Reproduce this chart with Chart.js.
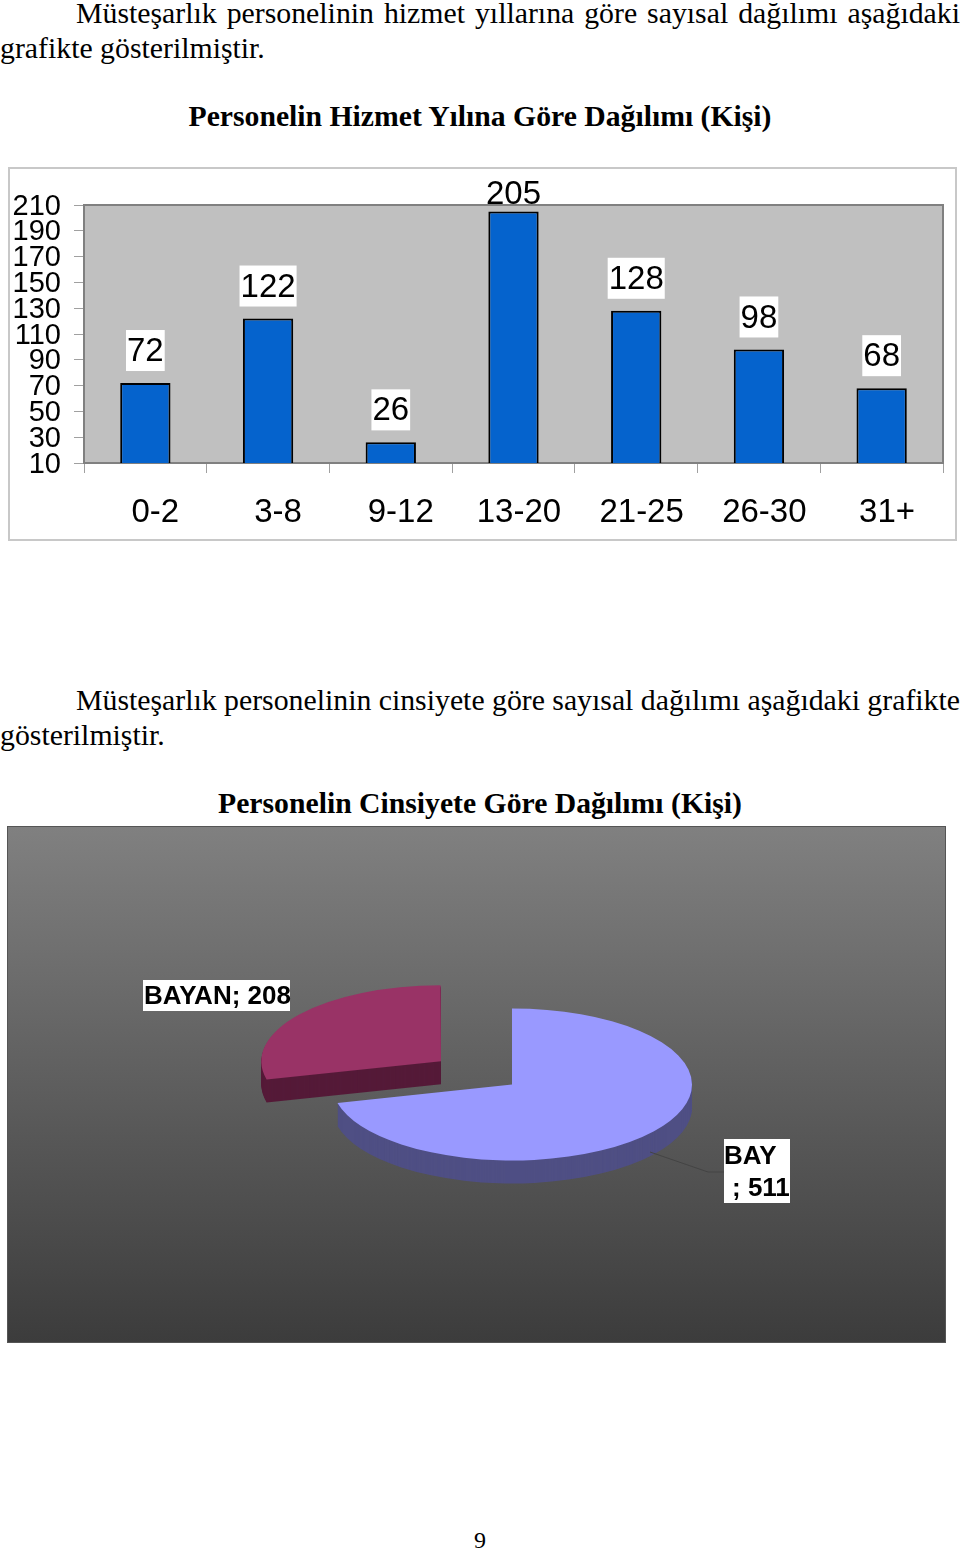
<!DOCTYPE html>
<html lang="tr">
<head>
<meta charset="utf-8">
<title>Personel</title>
<script src="https://cdn.jsdelivr.net/npm/chart.js@4/dist/chart.umd.min.js"></script>
<style>
  html, body { margin: 0; padding: 0; background: #fff; }
  body { position: relative; width: 960px; height: 1550px; overflow: hidden; font-family: "Liberation Serif", serif; color: #000; }
  .line { position: absolute; font-size: 29.8px; line-height: 34px; white-space: nowrap; }
  .just { left: 76px; width: 884px; white-space: normal; word-spacing: -3px; text-align: justify; text-align-last: justify; height: 34px; }
  .baslik { position: absolute; left: 0; width: 960px; text-align: center; font-weight: bold; font-size: 29.7px; line-height: 34px; margin: 0; }
  canvas { position: absolute; display: block; }
  #barChart { left: 8px; top: 167px; outline: 2px solid #c8c8c8; outline-offset: -2px; }
  #pieChart { left: 8px; top: 827px; background: linear-gradient(#808080, #3c3c3c); outline: 1px solid #555; outline-offset: 0; }
</style>
</head>
<body>
<div class="line just" style="top:-4px">Müsteşarlık personelinin hizmet yıllarına göre sayısal dağılımı aşağıdaki</div>
<div class="line" style="left:0;top:31px">grafikte gösterilmiştir.</div>
<h2 class="baslik" style="top:99px;left:0">Personelin Hizmet Yılına Göre Dağılımı (Kişi)</h2>
<canvas id="barChart" width="949" height="374"></canvas>

<div class="line just" style="top:683px">Müsteşarlık personelinin cinsiyete göre sayısal dağılımı aşağıdaki grafikte</div>
<div class="line" style="left:0;top:718px">gösterilmiştir.</div>
<h2 class="baslik" style="top:786px">Personelin Cinsiyete Göre Dağılımı (Kişi)</h2>
<canvas id="pieChart" width="937" height="515"></canvas>

<div class="line" style="left:474px;top:1523px;font-size:24px">9</div>

<script>
// bar chart data
const years = ["0-2", "3-8", "9-12", "13-20", "21-25", "26-30", "31+"];
const people = [72, 122, 26, 205, 128, 98, 68];
const axisMin = 10;
const axisMax = 210;
const axisStep = 20;

// pie chart data
const genders = ["BAY", "BAYAN"];
const genderCounts = [511, 208];
const pieColors = ["#9999ff", "#993366"];
const pieSideColors = ["#4f4f84", "#551a38"];

const sans = "'Liberation Sans', Arial, sans-serif";

let plotBack = {
  id: "plotBack",
  beforeDatasetsDraw(chart) {
    let a = chart.chartArea, c = chart.ctx;
    c.save();
    c.fillStyle = "#c0c0c0";
    c.fillRect(a.left, a.top, a.width, a.height);
    c.strokeStyle = "#808080";
    c.lineWidth = 2;
    c.strokeRect(a.left, a.top, a.width, a.height);
    c.restore();
  }
};

let barLabels = {
  id: "barLabels",
  afterDatasetsDraw(chart) {
    let c = chart.ctx, top = chart.chartArea.top;
    let bars = chart.getDatasetMeta(0).data;
    c.save();
    c.font = "33px " + sans;
    c.textAlign = "center";
    c.textBaseline = "middle";
    bars.forEach((b, i) => {
      let txt = String(people[i]);
      let w = c.measureText(txt).width + 2;
      let y = Math.max(b.y - 33, 26);
      // the box is hidden when the label would run over the plot top
      if (y - 20 > top) {
        c.fillStyle = "#fff";
        c.fillRect(b.x - w / 2, y - 20, w, 41);
      }
      c.fillStyle = "#000";
      c.fillText(txt, b.x, y + 2);
    });
    c.restore();
  }
};

new Chart(document.getElementById("barChart"), {
  type: "bar",
  data: {
    labels: years,
    datasets: [{
      data: people,
      backgroundColor: "#0563cd",
      borderColor: "#000",
      borderWidth: 2,
      borderSkipped: false,
      barPercentage: 0.41,
      categoryPercentage: 1
    }]
  },
  plugins: [plotBack, barLabels],
  options: {
    responsive: false,
    animation: false,
    layout: { padding: { top: 38, right: 14, left: 0, bottom: 0 } },
    plugins: { legend: { display: false }, tooltip: { enabled: false } },
    scales: {
      x: {
        afterFit: s => { s.height = 78; },
        border: { color: "#808080", width: 2 },
        grid: { offset: true, drawOnChartArea: false, color: "#a0a0a0", tickLength: 10 },
        ticks: {
          color: "#000",
          font: { family: sans, size: 33 },
          padding: 20,
          labelOffset: 10,
          maxRotation: 0,
          autoSkip: false,
          // the last four labels sit a little further left in the original
          callback: (v, i) => i >= 3 ? years[i] + " " : years[i]
        }
      },
      y: {
        min: axisMin,
        max: axisMax,
        afterFit: s => { s.width = 76; },
        border: { color: "#808080", width: 2 },
        grid: { drawOnChartArea: false, color: "#a0a0a0", tickLength: 10 },
        ticks: { stepSize: axisStep, color: "#000", font: { family: sans, size: 29 }, padding: 13, labelOffset: 1.5, autoSkip: false }
      }
    }
  }
});

// the pie is squashed and given a side wall to look like the 3d original
const squash = 0.422;
const depth = 23;

function squashCtx(chart, dy) {
  let c = chart.ctx, cy = (chart.chartArea.top + chart.chartArea.bottom) / 2;
  c.translate(0, cy + dy);
  c.scale(1, squash);
  c.translate(0, -cy);
}

let pie3d = {
  id: "pie3d",
  afterDatasetsUpdate(chart) {
    // arc drawing adds a bit of radius to an offset slice, take it back
    chart.getDatasetMeta(0).data[1].outerRadius -= 3;
  },
  beforeDatasetsDraw(chart) {
    let c = chart.ctx;
    chart.getDatasetMeta(0).data.forEach((arc, i) => {
      let keep = arc.options;
      arc.options = { offset: keep.offset, spacing: 0, circular: true, borderWidth: 0, borderColor: pieSideColors[i], borderAlign: "center", backgroundColor: pieSideColors[i] };
      for (let d = depth; d > 0; d--) {
        c.save();
        squashCtx(chart, d);
        arc.draw(c);
        c.restore();
      }
      arc.options = keep;
    });
    c.save();
    squashCtx(chart, 0);
  },
  afterDatasetsDraw(chart) {
    chart.ctx.restore();
  }
};

let pieLabels = {
  id: "pieLabels",
  afterDraw(chart) {
    let c = chart.ctx;
    c.save();
    // leader line of the BAY label
    c.strokeStyle = "#444";
    c.lineWidth = 1;
    c.beginPath();
    c.moveTo(642, 325);
    c.lineTo(700, 345);
    c.lineTo(716, 345);
    c.stroke();

    c.font = "bold 26px " + sans;
    c.textBaseline = "middle";
    c.fillStyle = "#fff";
    c.fillRect(135, 153, 147, 31);
    c.fillRect(716, 312, 66, 64);
    c.fillStyle = "#000";
    c.fillText(genders[1] + "; " + genderCounts[1], 136, 170);
    c.fillText(genders[0], 716, 330);
    c.fillText("; " + genderCounts[0], 724, 362);
    c.restore();
  }
};

new Chart(document.getElementById("pieChart"), {
  type: "pie",
  data: {
    labels: genders,
    datasets: [{
      data: genderCounts,
      backgroundColor: pieColors,
      borderWidth: 0,
      offset: [0, 360],
      clip: false
    }]
  },
  plugins: [pie3d, pieLabels],
  options: {
    responsive: false,
    animation: false,
    radius: 180,
    layout: { padding: { left: 71 } },
    plugins: { legend: { display: false }, tooltip: { enabled: false } }
  }
});
</script>
</body>
</html>
